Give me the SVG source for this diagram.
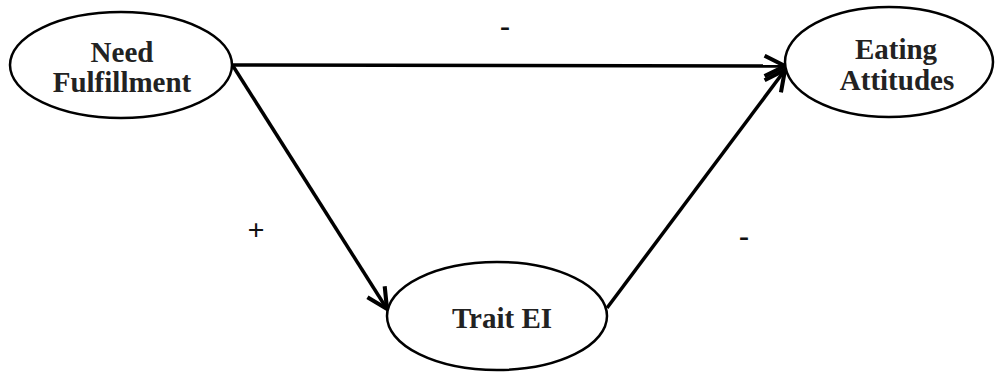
<svg xmlns="http://www.w3.org/2000/svg" width="997" height="373" viewBox="0 0 997 373">
<style>
.node{fill:#fff;stroke:#000;stroke-width:2.5}
.lbl{font-family:"Liberation Serif","Times New Roman",serif;font-weight:bold;font-size:29px;fill:#222;text-anchor:middle}
.sign{font-family:"Liberation Serif","Times New Roman",serif;font-weight:bold;font-size:30px;fill:#111;text-anchor:middle}
.edge{stroke:#000;stroke-width:3.5;fill:none;marker-end:url(#arr)}
</style>
<defs>
<marker id="arr" viewBox="0 0 12 12" refX="11" refY="6" markerWidth="7" markerHeight="7" markerUnits="strokeWidth" orient="auto">
<path d="M1,1 L11,6 L1,11" fill="none" stroke="#000" stroke-width="2"/>
</marker>
</defs>
<rect width="997" height="373" fill="#fff"/>
<g id="connectors">
<line class="edge" x1="233" y1="65" x2="785" y2="66"/>
<line class="edge" x1="233" y1="66" x2="387" y2="309"/>
<line class="edge" x1="607" y1="308" x2="785" y2="70"/>
</g>
<g id="need">
<ellipse class="node" cx="121" cy="65" rx="111" ry="53"/>
<text class="lbl" x="122" y="62">Need</text>
<text class="lbl" x="122" y="92">Fulfillment</text>
</g>
<g id="eating">
<ellipse class="node" cx="889" cy="62" rx="104" ry="55"/>
<text class="lbl" x="896" y="59">Eating</text>
<text class="lbl" x="897" y="90">Attitudes</text>
</g>
<g id="trait">
<ellipse class="node" cx="497" cy="316" rx="110" ry="54"/>
<text class="lbl" x="502" y="328">Trait EI</text>
</g>
<g id="signs">
<text class="sign" x="505" y="36">-</text>
<text class="sign" x="256" y="240">+</text>
<text class="sign" x="744" y="246">-</text>
</g>
</svg>
